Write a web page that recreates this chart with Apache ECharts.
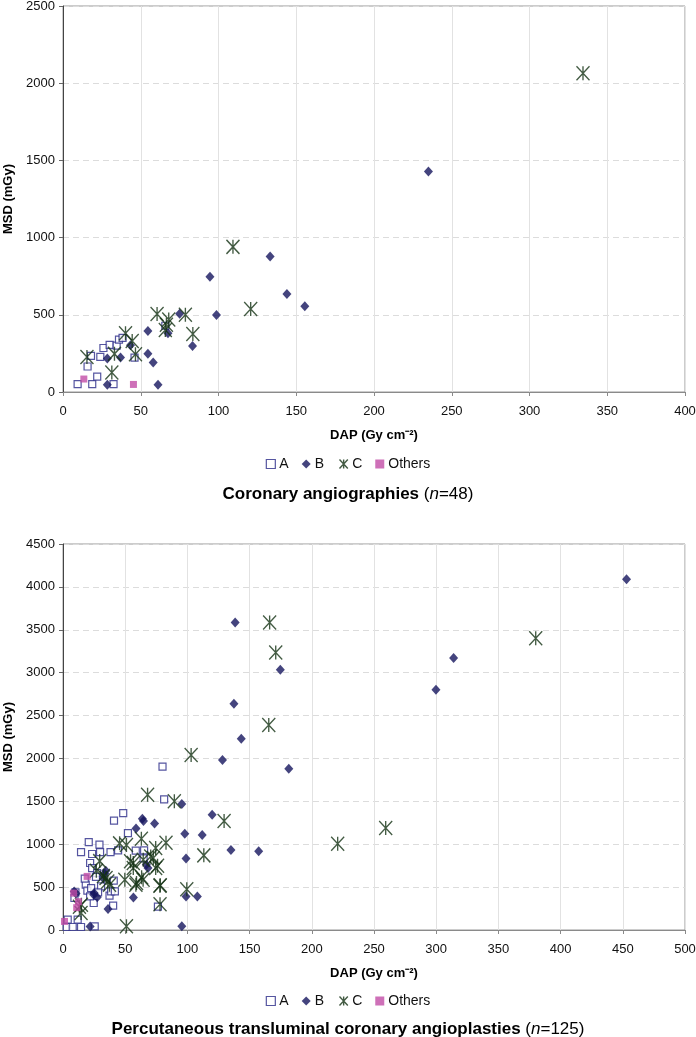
<!DOCTYPE html>
<html><head><meta charset="utf-8">
<script src="https://cdn.jsdelivr.net/npm/echarts@6/dist/echarts.min.js"></script>
<style>html,body{margin:0;padding:0;background:#fff}#c{width:696px;height:1037px}</style>
</head><body><div id="c"></div>
<script>
// ---------- Data: Coronary angiographies (n=48) ----------
const topA = [[9.4,51],[15.8,165],[18,234],[18.8,51],[22,99],[24,227],[26,285],[30,305],[32.5,51],[34.5,300],[36,339],[38.3,351],[46,222],[65.8,429]];
const topB = [[28.5,47],[28.5,217],[37,224],[43.4,303],[54.6,395],[54.6,247],[58,191],[61.1,47],[67.5,380],[75,506],[83.3,298],[94.5,747],[98.7,499],[133.2,877],[144,634],[155.5,556],[235,1428]];
const topC = [[15.4,227],[31.4,126],[33.1,247],[40.2,380],[44.5,330],[46.6,245],[60.5,505],[65.8,401],[66.5,435],[68,470],[78.7,500],[83.5,375],[109.3,940],[120.7,538],[334.4,2065]];
const topO = [[13.4,84],[45.3,49]];

// ---------- Data: PTCA (n=125) ----------
const botA = [[80,1905],[81.3,1523],[48.4,1362],[41,1274],[52.2,1130],[20.7,1025],[29.3,995],[14.5,909],[23.4,886],[29.8,909],[38.2,909],[44.3,928],[58.5,926],[65.2,928],[64.8,835],[21.8,781],[23.4,722],[27.4,664],[18.3,528],[19.6,458],[22.6,489],[30.6,508],[40.8,575],[37.4,400],[38.7,450],[41.7,450],[24.7,315],[40.3,283],[28.2,439],[21.8,392],[10,438],[9.2,373],[3.8,120],[3,35],[7.8,35],[14.5,35],[11.8,120],[25.5,43],[76.3,272],[17.5,600],[26.5,620]];
const botB = [[138.4,3586],[174.7,3034],[137.4,2638],[143.3,2230],[128.2,1981],[181.5,1880],[95.5,1470],[119.9,1344],[63.8,1296],[64.7,1272],[73.6,1243],[58.7,1183],[97.9,1122],[111.9,1107],[135,934],[157.3,917],[98.9,833],[68.3,722],[34.4,692],[56.6,378],[98.9,392],[108,392],[36.2,245],[95.5,43],[21.8,40],[314,3170],[299.8,2801],[453,4090],[9,450],[10.5,425],[25,431],[24.7,411],[27.5,382],[33.5,660],[32.5,600],[67,760]];
const botC = [[166.1,3586],[171,3236],[165.4,2389],[380,3400],[259.4,1189],[220.8,1006],[103,2040],[68,1578],[89.5,1500],[129.5,1270],[113.2,870],[99.5,475],[78,300],[78.2,522],[51,43],[82.8,1018],[74.5,956],[63,1065],[45.5,1010],[51,990],[56.5,781],[64.5,820],[63.2,614],[49.7,587],[59.1,548],[72.6,839],[74.5,723],[76,750],[70.5,858],[29.5,803],[26.8,690],[34.6,606],[37.4,528],[32.5,630],[36,565],[14.8,295],[13.2,270],[14.5,198],[54.3,801],[56.5,723],[64.4,586],[58.6,528],[77.9,516]];
const botO = [[1.2,100],[19.4,625],[8.6,430],[12.4,330],[11,260]];

const seriesNames = ['A','B','C','Others'];
const xName = 'DAP (Gy cm\u207B\u00B2)';
const yName = 'MSD (mGy)';
const title1 = ['Coronary angiographies ', 'n', '=48'];
const title2 = ['Percutaneous transluminal coronary angioplasties ', 'n', '=125'];

const FONT = '"Liberation Sans", Arial, sans-serif';
const STAR = 'path://M0,0L12,13M12,0L0,13M6,0L6,13';
const styles = {
  A: {symbol:'rect', symbolSize:7, itemStyle:{color:'#ffffff', borderColor:'#2a2a88', borderWidth:1.2}},
  B: {symbol:'diamond', symbolSize:[9,10], itemStyle:{color:'#15155e'}},
  C: {symbol:STAR, symbolSize:[13,14], itemStyle:{color:'none', borderColor:'#143214', borderWidth:1.4}},
  Others: {symbol:'rect', symbolSize:7, itemStyle:{color:'#c24ca6'}}
};

function xAxis(gi, max){
  return {gridIndex:gi, type:'value', min:0, max:max, interval:50,
    name:xName, nameLocation:'middle', nameGap:37,
    nameTextStyle:{fontFamily:FONT, fontWeight:'bold', fontSize:13, color:'#000'},
    axisLine:{show:true, lineStyle:{color:'#8a8a8a', width:1}},
    axisTick:{show:true, length:4, lineStyle:{color:'#8a8a8a'}},
    axisLabel:{fontFamily:FONT, fontSize:13, color:'#111', margin:13, formatter: v => String(v)},
    splitLine:{show:true, lineStyle:{color:'#e2e2e2', width:1}}};
}
function yAxis(gi, max){
  return {gridIndex:gi, type:'value', min:0, max:max, interval:500,
    name:yName, nameLocation:'middle', nameGap:48, nameRotate:90,
    nameTextStyle:{fontFamily:FONT, fontWeight:'bold', fontSize:13, color:'#000'},
    axisLine:{show:true, lineStyle:{color:'#444', width:1}},
    axisTick:{show:true, length:4, lineStyle:{color:'#666'}},
    axisLabel:{fontFamily:FONT, fontSize:13, color:'#111', margin:8, formatter: v => String(v)},
    splitLine:{show:true, lineStyle:{color:'#dcdcdc', type:[6,4], width:1}}};
}
function mkSeries(name, data, gi){
  const s = styles[name];
  return {name:name, type:'scatter', xAxisIndex:gi, yAxisIndex:gi, data:data,
    symbol:s.symbol, symbolSize:s.symbolSize, itemStyle:s.itemStyle,
    emphasis:{disabled:true}, z: 2};
}
function legend(top){
  return {top:top, left:'center', itemWidth:9, itemHeight:9, itemGap:13,
    textStyle:{fontFamily:FONT, fontSize:14, color:'#111', padding:[0,0,0,-1]},
    selectedMode:false,
    data: seriesNames.map(n => ({name:n, icon:styles[n].symbol, itemStyle:styles[n].itemStyle}))};
}
function title(t, top){
  return {left:'center', top:top,
    text:'{b|'+t[0]+'}{n|(}{i|'+t[1]+'}{n|'+t[2]+')}',
    textStyle:{fontWeight:'normal', rich:{
      b:{fontFamily:FONT, fontWeight:'bold', fontSize:17, color:'#000'},
      n:{fontFamily:FONT, fontWeight:'normal', fontSize:17, color:'#000'},
      i:{fontFamily:FONT, fontWeight:'normal', fontSize:17, fontStyle:'italic', color:'#000'}}}};
}

const chart = echarts.init(document.getElementById('c'), null, {renderer:'canvas'});
chart.setOption({
  animation:false,
  backgroundColor:'#fff',
  title:[title(title1, 481), title(title2, 1016)],
  legend:[legend(452), legend(989)],
  grid:[
    {left:63, top:6, width:622, height:386, show:true, borderColor:'#999', borderWidth:1, backgroundColor:'#fff', containLabel:false, outerBoundsMode:'none'},
    {left:63, top:544, width:622, height:386, show:true, borderColor:'#999', borderWidth:1, backgroundColor:'#fff', containLabel:false, outerBoundsMode:'none'}
  ],
  xAxis:[xAxis(0,400), xAxis(1,500)],
  yAxis:[yAxis(0,2500), yAxis(1,4500)],
  series:[
    mkSeries('A', topA, 0), mkSeries('B', topB, 0), mkSeries('C', topC, 0), mkSeries('Others', topO, 0),
    mkSeries('A', botA, 1), mkSeries('B', botB, 1), mkSeries('C', botC, 1), mkSeries('Others', botO, 1)
  ]
});
</script>
</body></html>
